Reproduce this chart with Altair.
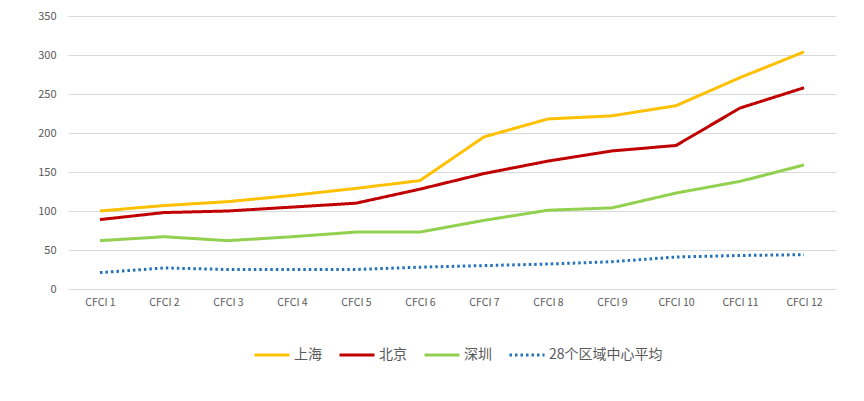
import altair as alt
import pandas as pd

categories = [f"CFCI {i}" for i in range(1, 13)]
series_names = ["上海", "北京", "深圳", "28个区域中心平均"]
shanghai = [100, 107, 112, 120, 129, 139, 195, 218, 222, 235, 271, 304]
beijing = [89, 98, 100, 105, 110, 128, 148, 164, 177, 184, 232, 258]
shenzhen = [62, 67, 62, 67, 73, 73, 88, 101, 104, 123, 138, 159]
average = [21, 27, 25, 25, 25, 28, 30, 32, 35, 41, 43, 44]
colors = ["#FFC000", "#C00000", "#92D050", "#2172B8"]
dashes = [[1, 0], [1, 0], [1, 0], [2.5, 3]]

rows = []
for name, vals in zip(series_names, [shanghai, beijing, shenzhen, average]):
    for c, v in zip(categories, vals):
        rows.append({"cat": c, "series": name, "value": v})
df = pd.DataFrame(rows)

font = "Noto Sans CJK SC"

chart = alt.Chart(df).mark_line(strokeWidth=3).encode(
    x=alt.X("cat:N", sort=categories, title=None,
            scale=alt.Scale(type="point", padding=0.5),
            axis=alt.Axis(labelAngle=0, ticks=False, domain=False, grid=False,
                          labelFontSize=10.5, labelColor="#595959", labelPadding=8,
                          labelFont=font)),
    y=alt.Y("value:Q", title=None,
            scale=alt.Scale(domain=[0, 350], nice=False),
            axis=alt.Axis(values=list(range(0, 351, 50)), ticks=False, domain=False,
                          gridColor="#D9D9D9", gridWidth=1, labelFontSize=11,
                          labelColor="#595959", labelPadding=12, labelFont=font)),
    color=alt.Color("series:N", sort=series_names,
                    scale=alt.Scale(domain=series_names, range=colors),
                    legend=alt.Legend(title=None, orient="none", direction="horizontal",
                                      legendX=185, legendY=320,
                                      symbolType="stroke", symbolSize=1225,
                                      symbolStrokeWidth=3, labelFontSize=14,
                                      labelColor="#595959", labelFont=font,
                                      columnPadding=11, labelOffset=3)),
    strokeDash=alt.StrokeDash("series:N", sort=series_names,
                              scale=alt.Scale(domain=series_names, range=dashes),
                              legend=None),
).properties(
    width=768, height=273,
    padding={"left": 60, "top": 8, "right": 20, "bottom": 104},
    autosize=alt.AutoSizeParams(type="none"),
    background="white",
).configure_view(stroke=None)

chart.save("out.html", embed_options={"renderer": "svg", "actions": False})
